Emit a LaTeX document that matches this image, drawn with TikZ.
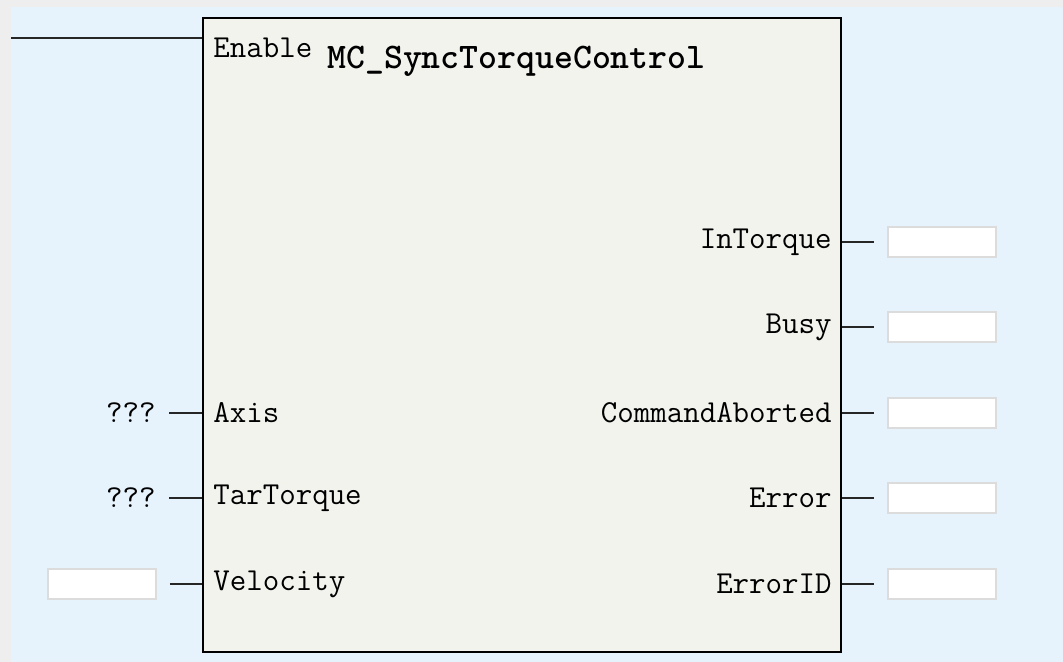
\documentclass[tikz,border=0pt]{standalone}
\usepackage{fontspec}
\usetikzlibrary{positioning, calc}

\definecolor{framegray}{HTML}{EEEEEE}
\definecolor{canvasblue}{HTML}{E6F3FD}
\definecolor{blockfill}{HTML}{F3F3EE}
\definecolor{boxedge}{HTML}{DCDCDC}

\begin{document}
\begin{tikzpicture}[
    x=0.5pt, y=-0.5pt,
    pin/.style={font=\fontsize{16}{18}\selectfont\ttfamily, inner sep=0pt},
    title/.style={font=\fontsize{18}{20}\selectfont\ttfamily\bfseries, inner sep=0pt, anchor=west},
    block/.style={draw=black, line width=1.3pt, fill=blockfill,
                  minimum width=319pt, minimum height=317pt, inner sep=0pt},
    valbox/.style={draw=boxedge, line width=0.8pt, fill=white,
                   minimum width=54pt, minimum height=15pt, inner sep=0pt},
    wire/.style={line width=1pt, black!85},
]
    \useasboundingbox (0,0) rectangle (1063,662);

    %==================== canvas ====================
    \fill[framegray] (0,0) rectangle (1063,662);
    \fill[canvasblue] (11,7) rectangle (1063,662);

    %==================== function block ====================
    \node[block] (fb) at (522,335) {};
    \node[pin, anchor=west] (en) at (213,48) {Enable};
    \node[title] (name) at (327,61) {MC\_SyncTorqueControl};

    % enable rung
    \coordinate (rail) at (11,38);
    \draw[wire] (rail) -- (fb.west |- rail);

    %==================== inputs ====================
    \foreach \pname/\y in {Axis/413, TarTorque/498}{
        \node[pin, anchor=west] (i\pname) at (213,\y) {\pname};
        \node[pin, anchor=east] (u\pname) at (156,\y) {???};
        \draw[wire, shorten <=6.5pt] (u\pname.east) -- (fb.west |- i\pname);
    }
    \node[pin, anchor=west] (iVelocity) at (213,584) {Velocity};
    \node[valbox] (vVelocity) at (102,584) {};
    \draw[wire, shorten <=6.5pt] (vVelocity.east) -- (fb.west |- iVelocity);

    %==================== outputs ====================
    \foreach \pname/\y in {InTorque/242, Busy/327, CommandAborted/413, Error/498, ErrorID/584}{
        \node[pin, anchor=east] (o\pname) at (832,\y) {\pname};
        \node[valbox] (v\pname) at (942,\y) {};
        \draw[wire, shorten >=6.5pt] (fb.east |- o\pname) -- (v\pname.west);
    }

\end{tikzpicture}
\end{document}
